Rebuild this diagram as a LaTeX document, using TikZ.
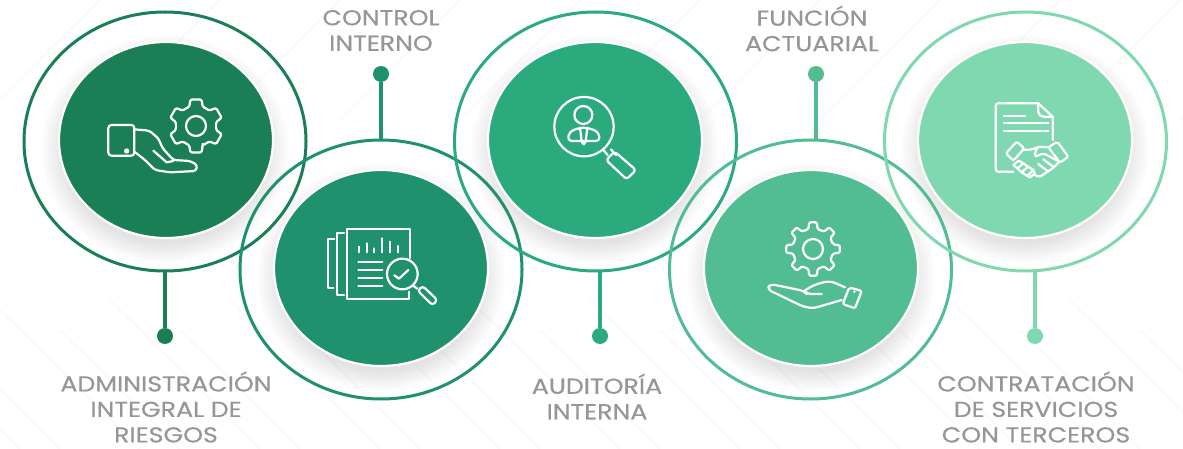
\documentclass[tikz,border=0pt]{standalone}
\usepackage{fontspec}
\setmainfont[FakeStretch=1.17,FakeBold=0.35]{Poppins}
\usetikzlibrary{shapes.geometric}
\definecolor{cA}{RGB}{26,127,85}
\definecolor{cB}{RGB}{31,145,108}
\definecolor{cC}{RGB}{43,170,126}
\definecolor{cD}{RGB}{82,189,146}
\definecolor{cE}{RGB}{128,216,177}
\definecolor{lbl}{RGB}{150,150,150}
\definecolor{bgline}{RGB}{250,250,250}
\tikzset{
  ring/.style={draw=#1,ellipse,line width=3pt,minimum width=282pt,minimum height=259pt,inner sep=0pt,outer sep=0pt},
  disc/.style={fill=#1,draw=white,line width=2.2pt,ellipse,minimum width=214pt,minimum height=196pt,inner sep=0pt,outer sep=0pt},
  pin/.style={fill=#1,circle,minimum size=16pt,inner sep=0pt,outer sep=0pt},
  stem/.style={draw=#1,line width=3.2pt},
  lab/.style={text=lbl,align=center,font=\fontsize{21.6}{25.5}\selectfont,inner sep=0pt},
  ic/.style={draw=white,line width=2.2pt,line join=round,line cap=round,fill=none},
  bgl/.style={draw=bgline,line width=1.6pt}
}
\newcommand{\softshadow}[2]{%
  \foreach \i in {0,...,13}{%
    \fill[black,opacity=0.009] (#1,#2+9) ellipse ({124-\i*1.7} and {114-\i*1.5});
  }%
}
% cx, cy, teeth, root radius, tip radius, hole radius, rotation, tip half angle, root half angle
\newcommand{\gearicon}[9]{%
  \begin{scope}[shift={(#1,#2)}]
    \pgfmathsetmacro{\gst}{360/#3}
    \draw[ic,rounded corners=1.3pt] (#7-#9:#4)
      foreach \k in {1,...,#3}{
        -- (\k*\gst-\gst+#7-#9:#4) -- (\k*\gst-\gst+#7-#8:#5) -- (\k*\gst-\gst+#7+#8:#5) -- (\k*\gst-\gst+#7+#9:#4)
      } -- cycle;
    \draw[ic] (0,0) circle (#6);
  \end{scope}%
}
\begin{document}
\begin{tikzpicture}[x=1pt,y=-1pt]
\useasboundingbox (0,0) rectangle (1183,449);
\fill[white] (0,0) rectangle (1183,449);
% faint background chevrons
\begin{scope}
  \clip (0,0) rectangle (1183,449);
  \foreach \s in {0,120,...,1320}{
    \draw[bgl] (\s-80,60) -- (\s+10,-30);
    \draw[bgl] (\s-140,120) -- (\s+20,-40);
    \draw[bgl] (\s-130,300) -- (\s+20,449);
    \draw[bgl] (\s-60,330) -- (\s+60,449);
  }
\end{scope}
\softshadow{165}{140}
\softshadow{381}{268}
\softshadow{595}{140}
\softshadow{811}{268}
\softshadow{1025}{140}
% pins
\node[pin=cA] (d1) at (165,336) {};
\node[pin=cB] (d2) at (381,74) {};
\node[pin=cC] (d3) at (600,336) {};
\node[pin=cD] (d4) at (816,74) {};
\node[pin=cE] (d5) at (1035,336) {};
% rings
\node[ring=cA] (o1) at (165,141.5) {};
\node[ring=cB] (o2) at (381,269.5) {};
\node[ring=cC] (o3) at (595.5,141.5) {};
\node[ring=cD] (o4) at (810.5,269.5) {};
\node[ring=cE] (o5) at (1025.5,141.5) {};
% stems
\draw[stem=cA] (d1) -- (d1 |- o1.south);
\draw[stem=cB] (d2) -- (d2 |- o2.north);
\draw[stem=cC] (d3) -- (d3 |- o3.south);
\draw[stem=cD] (d4) -- (d4 |- o4.north);
\draw[stem=cE] (d5) -- (d5 |- o5.south);
% discs
\node[disc=cA] (i1) at (166,140) {};
\node[disc=cB] (i2) at (381,268) {};
\node[disc=cC] (i3) at (595,140) {};
\node[disc=cD] (i4) at (811,268) {};
\node[disc=cE] (i5) at (1025,140) {};
% labels
\node[lab] (t1) at (166,407) {ADMINISTRACIÓN\\INTEGRAL DE\\RIESGOS};
\node[lab] (t2) at (381,30.5) {CONTROL\\INTERNO};
\node[lab] (t3) at (597,396.5) {AUDITORÍA\\INTERNA};
\node[lab] (t4) at (812,28.5) {FUNCIÓN\\ACTUARIAL};
\node[lab] (t5) at (1036,407) {CONTRATACIÓN\\DE SERVICIOS\\CON TERCEROS};
% icon 1: hand and gear
\gearicon{196}{126}{6}{20.5}{27}{10}{90}{12}{19}
\begin{scope}[shift={(90,85)},scale=1/3]
  \draw[ic,rounded corners=3pt] (55,120) rectangle (133,212);
  \fill[white] (110,198) circle (8);
  \draw[ic,rounded corners=3pt] (133,133) -- (178,137) -- (205,160) -- (218,190) -- (250,225) -- (300,228) -- (322,240) -- (318,258) -- (240,262) -- (195,255) -- (165,225) -- (133,200);
  \draw[ic] (190,197) -- (230,232) -- (250,228);
\end{scope}
% icon 2: report with magnifier
\begin{scope}[shift={(300,200)},scale=1/3]
  \draw[ic] (330,175) -- (330,87) -- (142,87) -- (142,297) -- (328,297) -- (328,275);
  \draw[ic] (132,98) -- (112,98) -- (112,285) -- (132,285);
  \draw[ic] (103,118) -- (85,118) -- (85,265) -- (100,265);
  \draw[ic] (177,157) -- (177,140) (200,157) -- (200,130) (223,157) -- (223,145) (245,157) -- (245,115) (270,157) -- (270,125) (293,157) -- (293,138);
  \draw[ic] (175,185) -- (247,185) (175,210) -- (247,210) (175,233) -- (247,233) (175,257) -- (247,257);
  \draw[ic] (307,222) circle (46);
  \draw[ic] (283,226) -- (297,236) -- (325,210);
  \draw[ic] (338,256) -- (352,266);
  \draw[ic,rounded corners=3pt] (368,258) -- (412,300) -- (398,316) -- (353,272) -- cycle;
\end{scope}
% icon 3: person under magnifier
\begin{scope}[shift={(530,80)},scale=1/3]
  \draw[ic] (162,140) circle (89);
  \draw[ic] (160,105) circle (27);
  \draw[ic,rounded corners=4pt] (113,183) -- (118,155) -- (150,143) -- (172,143) -- (205,155) -- (210,183) -- cycle;
  \draw[ic] (150,143) -- (155,185) -- (161,193) -- (167,185) -- (172,143);
  \draw[ic] (218,208) -- (233,225);
  \draw[ic] (243,208) -- (258,225);
  \draw[ic,rounded corners=3pt] (254,215) -- (318,270) -- (290,298) -- (228,240) -- cycle;
\end{scope}
% icon 4: open hand and gear
\gearicon{813}{249}{8}{20.5}{27}{10}{0}{8}{13}
\begin{scope}[shift={(750,210)},scale=1/3]
  \draw[ic,rounded corners=4pt] (215,252) -- (170,252) -- (163,243) -- (60,222) -- (52,238) -- (160,290) -- (190,295) -- (275,270);
  \draw[ic,rounded corners=6pt] (163,243) -- (190,225) -- (240,212) -- (285,232);
  \draw[ic,rounded corners=2pt] (298,232) -- (335,243) -- (315,295) -- (278,282) -- cycle;
  \fill[white] (313,245) circle (4);
\end{scope}
% icon 5: contract and handshake
\begin{scope}[shift={(980,90)},scale=1/3]
  \draw[ic,rounded corners=2.5pt] (100,245) -- (47,245) -- (47,40) -- (175,40);
  \draw[ic] (175,40) -- (218,80) -- (218,150);
  \draw[ic,rounded corners=2pt] (175,40) -- (175,72) -- (185,80) -- (218,80);
  \draw[ic] (72,78) -- (135,78) (72,100) -- (205,100) (72,122) -- (205,122);
  \draw[ic,rounded corners=2pt] (78,190) -- (110,155) -- (133,175) -- (100,212) -- cycle;
  \draw[ic,rounded corners=2pt] (205,172) -- (232,155) -- (265,200) -- (240,218) -- cycle;
  \draw[ic,rounded corners=2pt] (128,180) -- (160,178) -- (175,170) -- (205,172);
  \draw[ic,rounded corners=2pt] (175,170) -- (165,185) -- (165,200) -- (190,190) -- (238,215);
  \draw[ic,rounded corners=2pt] (238,215) -- (222,232) -- (195,250) -- (178,262) -- (165,255);
  \draw[ic] (222,232) -- (190,208) (205,245) -- (175,222);
  \draw[ic] (100,225) -- (116,212) (112,235) -- (130,220) (125,247) -- (144,230) (142,258) -- (160,240);
  \draw[ic] (100,225) -- (112,235) -- (125,247) -- (142,258) -- (150,262) -- (160,254);
  \draw[ic] (116,212) -- (130,220) (130,220) -- (144,230) (144,230) -- (160,240) -- (165,255);
\end{scope}
\end{tikzpicture}
\end{document}
